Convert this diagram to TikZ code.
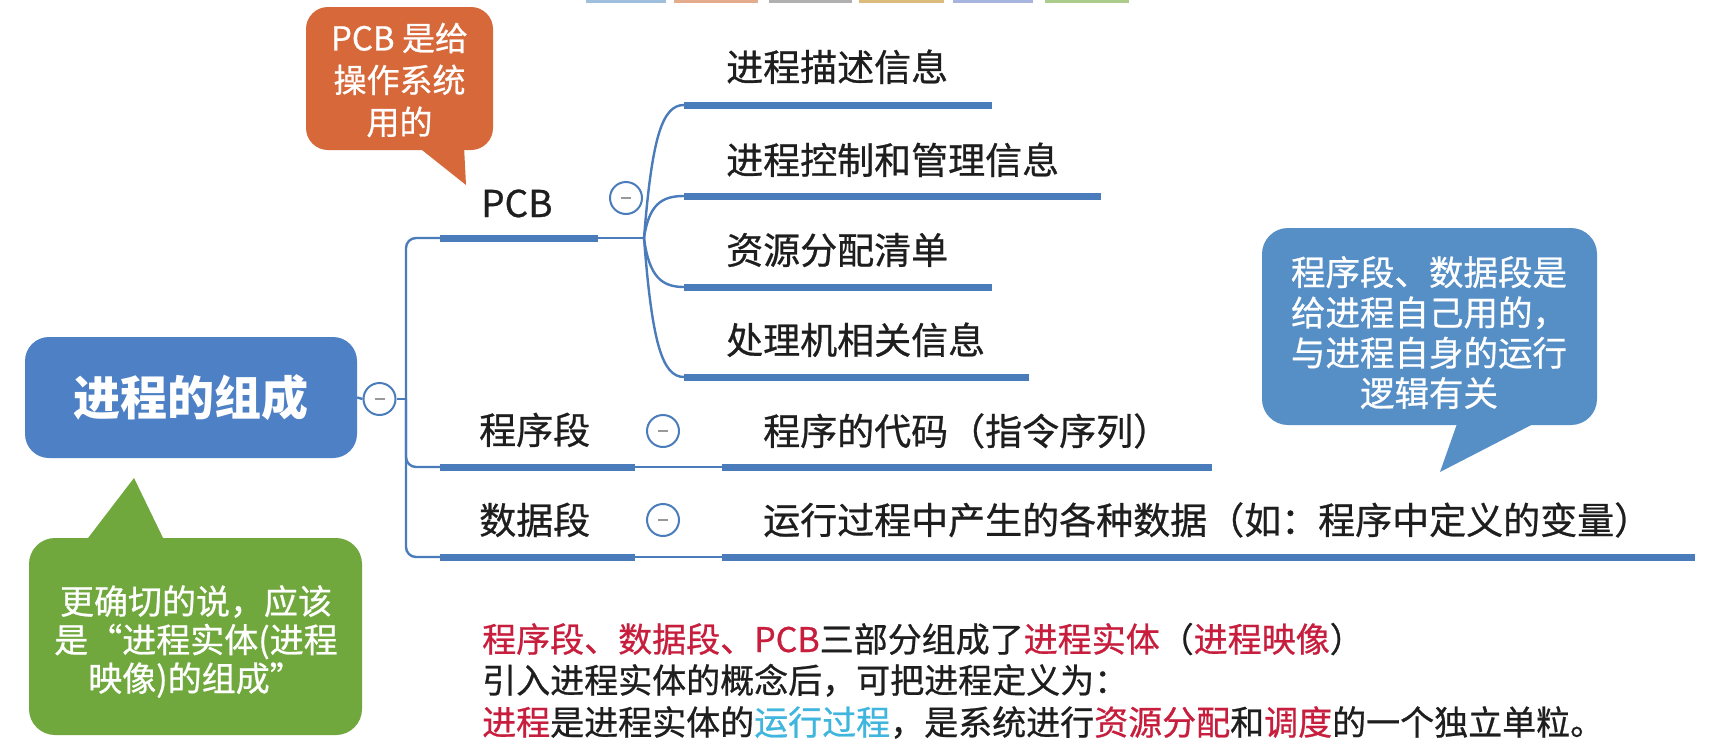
\documentclass[tikz,border=0pt]{standalone}
\usepackage{fontspec}
\setmainfont{Noto Sans CJK SC}[UprightFeatures={FakeBold=0.7}]
\usetikzlibrary{calc}
\definecolor{barblue}{RGB}{74,124,188}
\definecolor{mainblue}{RGB}{77,128,196}
\definecolor{callblue}{RGB}{86,142,198}
\definecolor{calorange}{RGB}{214,104,58}
\definecolor{calgreen}{RGB}{112,168,62}
\definecolor{txt}{RGB}{30,30,30}
\definecolor{hired}{RGB}{200,30,62}
\definecolor{hicyan}{RGB}{64,182,222}
\definecolor{topa}{RGB}{160,190,222}
\definecolor{topb}{RGB}{228,172,140}
\definecolor{topc}{RGB}{176,176,176}
\definecolor{topd}{RGB}{220,188,124}
\definecolor{tope}{RGB}{166,180,222}
\definecolor{topf}{RGB}{172,204,140}
\begin{document}
\begin{tikzpicture}[x=1pt,y=-1pt,
  conn/.style={draw=barblue, line width=2.4},
  barnode/.style={fill=barblue, inner sep=0, outer sep=0, minimum height=7},
  togg/.style={circle, draw=barblue, line width=2, fill=white, minimum size=32, inner sep=0,
     path picture={\draw[gray!80, line width=1.8] ([xshift=-5]path picture bounding box.center) -- ([xshift=5]path picture bounding box.center);}},
  lbl/.style={anchor=base west, inner sep=0, text=txt, font=\fontsize{37}{44}\selectfont},
  note/.style={anchor=base west, inner sep=0, text=txt, font=\fontsize{34}{40}\selectfont},
  bubble/.style={inner sep=0, outer sep=0},
  btext/.style={text=white, align=center, inner sep=0},
]
\useasboundingbox (0,0) rectangle (1725,750);
\fill[white] (0,0) rectangle (1725,750);

% faint top strip
\foreach \a/\b/\c [count=\i] in {586/666/topa,674/758/topb,769/852/topc,859/944/topd,953/1033/tope,1045/1129/topf}
  \fill[\c] (\a,0) rectangle (\b,3);

% central node
\node[fill=mainblue, rounded corners=24, minimum width=332, minimum height=121, inner sep=0,
      text=white, font=\fontsize{47}{50}\selectfont\bfseries] (main) at (191,397.5) {进程的组成};
\node[togg] (mc) at (379.5,399) {};
\coordinate (trunk) at (406,399);

% bars
\node[barnode, minimum width=158] (pcbbar) at (519,238) {};
\node[barnode, minimum width=308] (b1) at (838,105) {};
\node[barnode, minimum width=417] (b2) at (892.5,196) {};
\node[barnode, minimum width=308] (b3) at (838,287) {};
\node[barnode, minimum width=345] (b4) at (856.5,377) {};
\node[barnode, minimum width=195] (progbar) at (537.5,467) {};
\node[barnode, minimum width=490] (codebar) at (967,467) {};
\node[barnode, minimum width=195] (databar) at (537.5,557) {};
\node[barnode, minimum width=973] (varbar) at (1208.5,557) {};
\coordinate (fork) at (644,238);

% connectors
\draw[conn] (main.east) -- (mc.west);
\draw[conn] (mc.east) -- (trunk);
\draw[conn, rounded corners=10] (trunk) |- (pcbbar.west);
\draw[conn, rounded corners=10] (trunk) |- (progbar.west);
\draw[conn, rounded corners=10] (trunk) |- (databar.west);
\draw[conn] (pcbbar.east) -- (fork);
\draw[conn] (fork) .. controls +(8,-100) and +(-22,0) .. (b1.west);
\draw[conn] (fork) .. controls +(5,-34) and +(-22,0) .. (b2.west);
\draw[conn] (fork) .. controls +(5,39) and +(-22,0) .. (b3.west);
\draw[conn] (fork) .. controls +(8,104) and +(-22,0) .. (b4.west);
\draw[conn] (progbar.east) -- (codebar.west);
\draw[conn] (databar.east) -- (varbar.west);

% toggles
\node[togg] (tp) at (626,198) {};
\node[togg] (tg) at (663,431) {};
\node[togg] (td) at (663,520) {};

% labels
\node[lbl] (lpcb) at (481,217) {PCB};
\node[lbl] (l1) at (726,81) {进程描述信息};
\node[lbl] (l2) at (726,174) {进程控制和管理信息};
\node[lbl] (l3) at (726,264) {资源分配清单};
\node[lbl] (l4) at (726,354) {处理机相关信息};
\node[lbl] (lprog) at (479,444) {程序段};
\node[lbl] (lcode) at (763,445) {程序的代码（指令序列）};
\node[lbl] (ldata) at (479,534) {数据段};
\node[lbl] (lvar) at (763,534) {运行过程中产生的各种数据（如：程序中定义的变量）};

% orange callout
\node[bubble, fill=calorange, rounded corners=22, minimum width=187, minimum height=143] (obox) at (399.5,78.5) {};
\coordinate (otip) at (466,185);
\fill[calorange] (417,146) -- (464,146) -- (otip) -- cycle;
\node[btext, font=\fontsize{33}{42}\selectfont] (otext) at (399.5,80) {PCB 是给\\操作系统\\用的};

% green callout
\node[bubble, fill=calgreen, rounded corners=26, minimum width=333, minimum height=197] (gbox) at (195.5,636.5) {};
\coordinate (gtip) at (134,478);
\fill[calgreen] (85,542) -- (gtip) -- (165,542) -- cycle;
\node[btext, font=\fontsize{34}{38.5}\selectfont] (gtext) at (196,641.5) {更确切的说，应该\\是“进程实体(进程\\映像)的组成”};

% blue callout
\node[bubble, fill=callblue, rounded corners=26, minimum width=335, minimum height=197] (bbox) at (1429.5,326.5) {};
\coordinate (btip) at (1440,472);
\fill[callblue] (1458,421) -- (1539,421) -- (btip) -- cycle;
\node[btext, font=\fontsize{34.5}{40.3}\selectfont] (btext) at (1429,332.5) {程序段、数据段是\\给进程自己用的，\\与进程自身的运行\\逻辑有关};

% bottom notes
\node[note] (n1) at (482,652) {\textcolor{hired}{程序段、数据段、PCB}三部分组成了\textcolor{hired}{进程实体}（\textcolor{hired}{进程映像}）};
\node[note] (n2) at (482,693) {引入进程实体的概念后，可把进程定义为：};
\node[note] (n3) at (482,735) {\textcolor{hired}{进程}是进程实体的\textcolor{hicyan}{运行过程}，是系统进行\textcolor{hired}{资源分配}和\textcolor{hired}{调度}的一个独立单粒。};
\end{tikzpicture}
\end{document}
